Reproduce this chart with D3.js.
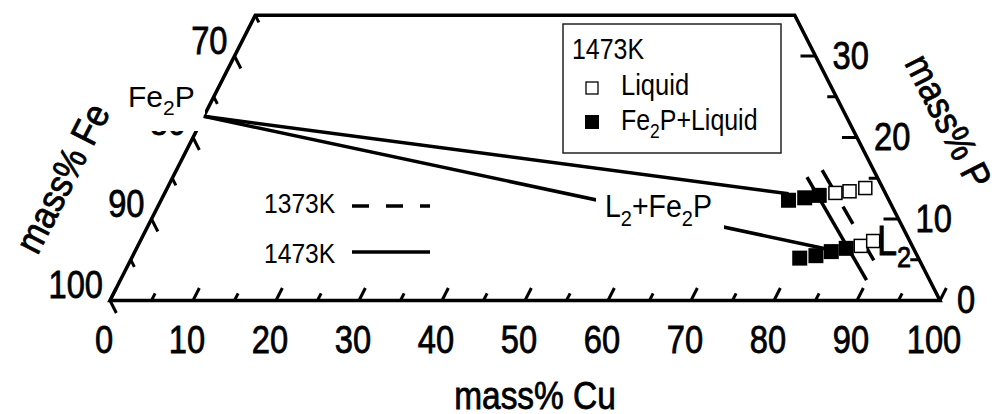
<!DOCTYPE html>
<html>
<head>
<meta charset="utf-8">
<script src="https://cdn.jsdelivr.net/npm/d3@7"></script>
<style>
  body { margin: 0; background: #fff; }
  text { font-family: "Liberation Sans", Arial, sans-serif; fill: #000; }
  text.heavy { stroke: #000; stroke-width: 0.8px; }
</style>
</head>
<body>
<svg id="chart" width="1003" height="414"></svg>
<script>
// Fe-Cu-P section, mass%, points given as (Cu, P); Fe = 100 - Cu - P
const cuLabels = [0, 10, 20, 30, 40, 50, 60, 70, 80, 90, 100];
const feLabels = [70, 80, 90, 100];
const pLabels = [0, 10, 20, 30];
const pMax = 35;

// 1473K experimental points
const liquid1473 = [
  { cu: 80.8, p: 13.2 }, { cu: 82.4, p: 13.4 }, { cu: 84.1, p: 13.8 },
  { cu: 87.1, p: 6.7 }, { cu: 88.3, p: 7.3 }
];
const fe2pLiquid1473 = [
  { cu: 75.6, p: 12.3 }, { cu: 77.4, p: 12.6 }, { cu: 79.0, p: 12.9 },
  { cu: 80.5, p: 5.2 }, { cu: 82.3, p: 5.5 }, { cu: 83.9, p: 6.0 }, { cu: 85.5, p: 6.4 }
];

// Fe2P corner of the two-phase field and its tie lines
const fe2p = { cu: 0, p: 22.6 };
const tieEnds = [{ cu: 75.2, p: 13.1 }, { cu: 83.8, p: 6.2 }];

// L2 liquidus boundaries
const boundary1473 = [{ cu: 76.4, p: 15.15 }, { cu: 89.9, p: 2.5 }];
const boundary1373 = [{ cu: 77.8, p: 16.0 }, { cu: 89.8, p: 4.7 }];

const svg = d3.select("#chart");

const xs = d3.scaleLinear().domain([0, 100]).range([110, 940]);
const ys = d3.scaleLinear().domain([0, pMax]).range([300.5, 300.5 - pMax * 8.15]);
const proj = (cu, p) => [xs(cu + p / 2), ys(p)];

function unit(a, b) {
  const dx = b[0] - a[0], dy = b[1] - a[1], l = Math.hypot(dx, dy);
  return [dx / l, dy / l];
}

// text helper: parts are [string, isSub]
function label(g, x, y, parts, size, opts = {}) {
  const t = g.append("text")
    .attr("class", opts.heavy ? "heavy" : null)
    .attr("transform", `translate(${x},${y}) rotate(${opts.rot || 0}) scale(${opts.sx || 0.86},1)`)
    .attr("font-size", size)
    .attr("text-anchor", opts.anchor || "start");
  if (opts.middle) t.attr("dominant-baseline", "central");
  if (typeof parts === "string") parts = [[parts]];
  let down = false;
  parts.forEach(([s, sub]) => {
    const ts = t.append("tspan").text(s);
    if (sub) { ts.attr("font-size", size * 0.7).attr("dy", size * 0.28); down = true; }
    else if (down) { ts.attr("dy", -size * 0.28); down = false; }
  });
  return t;
}

const g = svg.append("g");

// frame
const corners = [proj(0, 0), proj(100, 0), proj(100 - pMax, pMax), proj(0, pMax)];
g.append("path")
  .attr("d", d3.line()(corners) + "Z")
  .attr("fill", "none").attr("stroke", "#000").attr("stroke-width", 3.5)
  .attr("stroke-linejoin", "miter");

// ticks
const ticks = [];
d3.range(0, 101, 5).forEach(c => {
  const a = proj(c, 0), u = unit(a, proj(c, 1));
  ticks.push({ a, u, len: c % 10 === 0 ? 14 : 8 });
});
d3.range(65, 101, 5).forEach(f => {
  const a = proj(0, 100 - f), u = unit(a, proj(1, 99 - f));
  ticks.push({ a, u, len: f % 10 === 0 ? 14 : 8 });
});
d3.range(5, pMax, 5).forEach(p => {
  const a = proj(100 - p, p), u = unit(a, proj(99 - p, p));
  ticks.push({ a, u, len: p % 10 === 0 ? 15 : 9 });
});
g.selectAll(".tick").data(ticks).enter().append("line")
  .attr("x1", d => d.a[0]).attr("y1", d => d.a[1])
  .attr("x2", d => d.a[0] + d.u[0] * d.len).attr("y2", d => d.a[1] + d.u[1] * d.len)
  .attr("stroke", "#000").attr("stroke-width", 3);

// tick labels
cuLabels.forEach(c => {
  const [x] = proj(c, 0);
  label(g, x - 6, 353, String(c), 38, { anchor: "middle", heavy: true });
});
feLabels.forEach(f => {
  const [x, y] = proj(0, 100 - f);
  label(g, x - 7, y - 2.5, String(f), 38, { anchor: "end", heavy: true });
});
pLabels.forEach(p => {
  const [x, y] = proj(100 - p, p);
  label(g, x + 17, y + 12.5, String(p), 38, { heavy: true });
});

// axis titles
label(g, 535, 409, "mass% Cu", 38, { anchor: "middle", sx: 0.88, heavy: true });
label(g, 62, 178, "mass% Fe", 38, { anchor: "middle", middle: true, rot: -63, sx: 0.9, heavy: true });
label(g, 949, 121, "mass% P", 38, { anchor: "middle", middle: true, rot: 63, sx: 0.9, heavy: true });

// Fe2P label with white backing (hides most of the "80" label)
g.append("rect").attr("x", 140).attr("y", 78).attr("width", 65).attr("height", 53).attr("fill", "#fff");
label(g, 128, 107, [["Fe"], ["2", true], ["P"]], 30, { sx: 1 });

// tie lines from Fe2P
const line = d3.line().x(d => proj(d.cu, d.p)[0]).y(d => proj(d.cu, d.p)[1]);
tieEnds.forEach(e => {
  g.append("path").attr("d", line([fe2p, e]))
    .attr("fill", "none").attr("stroke", "#000").attr("stroke-width", 3.5);
});

// L2+Fe2P label over the lower tie line
g.append("rect").attr("x", 596).attr("y", 188).attr("width", 128).attr("height", 48).attr("fill", "#fff");
label(g, 605, 217, [["L"], ["2", true], ["+Fe"], ["2", true], ["P"]], 31, { sx: 0.92 });

// boundaries
g.append("path").attr("d", line(boundary1473))
  .attr("fill", "none").attr("stroke", "#000").attr("stroke-width", 3.5);
g.append("path").attr("d", line(boundary1373))
  .attr("fill", "none").attr("stroke", "#000").attr("stroke-width", 3.5)
  .attr("stroke-dasharray", "20,22");

// squares
g.selectAll(".fl").data(fe2pLiquid1473).enter().append("rect")
  .attr("x", d => proj(d.cu, d.p)[0] - 7.5).attr("y", d => proj(d.cu, d.p)[1] - 7.5)
  .attr("width", 15).attr("height", 15).attr("fill", "#000");
g.selectAll(".lq").data(liquid1473).enter().append("rect")
  .attr("x", d => proj(d.cu, d.p)[0] - 6.5).attr("y", d => proj(d.cu, d.p)[1] - 6.5)
  .attr("width", 13).attr("height", 13).attr("fill", "#fff")
  .attr("stroke", "#000").attr("stroke-width", 1.5);

// L2 label
label(g, 877, 255, [["L"], ["2", true]], 42, { sx: 0.86, heavy: true });

// line legend
label(g, 264, 213, "1373K", 28, { sx: 0.88 });
g.append("line").attr("x1", 352).attr("x2", 430).attr("y1", 206).attr("y2", 206)
  .attr("stroke", "#000").attr("stroke-width", 3.5).attr("stroke-dasharray", "17,17");
label(g, 264, 263, "1473K", 28, { sx: 0.88 });
g.append("line").attr("x1", 352).attr("x2", 430).attr("y1", 252).attr("y2", 252)
  .attr("stroke", "#000").attr("stroke-width", 3.5);

// symbol legend
const lg = g.append("g");
lg.append("rect").attr("x", 563).attr("y", 24).attr("width", 218).attr("height", 129)
  .attr("fill", "#fff").attr("stroke", "#222").attr("stroke-width", 1.5);
label(lg, 572, 59, "1473K", 29, { sx: 0.86 });
lg.append("rect").attr("x", 586).attr("y", 82).attr("width", 12).attr("height", 12)
  .attr("fill", "#fff").attr("stroke", "#000").attr("stroke-width", 1.3);
label(lg, 621, 95, "Liquid", 29, { sx: 0.88 });
lg.append("rect").attr("x", 585).attr("y", 115).attr("width", 14).attr("height", 14).attr("fill", "#000");
label(lg, 621, 130, [["Fe"], ["2", true], ["P+Liquid"]], 29, { sx: 0.86 });
</script>
</body>
</html>
